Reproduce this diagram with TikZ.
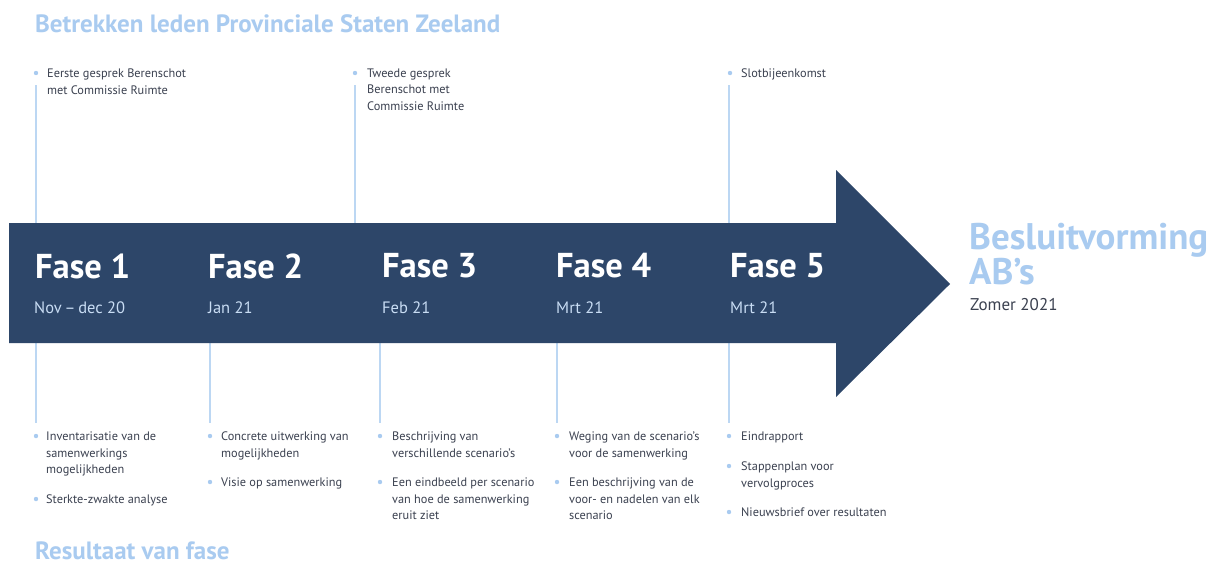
\documentclass[tikz,border=0pt]{standalone}
\usepackage{fontspec}
\setmainfont{PT Sans}
\definecolor{navy}{HTML}{2D4669}
\definecolor{lblue}{HTML}{A9CBF0}
\definecolor{lline}{HTML}{BCD7F3}
\definecolor{dtext}{HTML}{3B4150}
\definecolor{datec}{HTML}{C9DDF4}
\begin{document}
\begin{tikzpicture}[x=1pt,y=-1pt,
  heading/.style={anchor=base west, inner sep=0, text=lblue, font=\fontsize{25}{28}\selectfont\bfseries},
  item/.style={anchor=north west, inner sep=0, align=left, text=dtext, font=\fontsize{12.3}{16.6}\selectfont},
  bul/.style={circle, fill=lblue, inner sep=0, minimum size=4.4pt},
  vline/.style={draw=lline, line width=1.4pt},
  fase/.style={anchor=west, inner sep=0, text=white, font=\fontsize{34.5}{38}\selectfont\bfseries},
  date/.style={anchor=west, inner sep=0, text=datec, font=\fontsize{16.5}{20}\selectfont}
]
\useasboundingbox[fill=white] (0,0) rectangle (1220,566);

% headings
\node[heading] (top) at (35,32) {Betrekken leden Provinciale Staten Zeeland};
\node[heading] (bottom) at (35,559.5) {Resultaat van fase};

% coordinates for vertical lines
\coordinate (t1a) at (36,85);  \coordinate (t1b) at (36,224);
\coordinate (t3a) at (355,85); \coordinate (t3b) at (355,224);
\coordinate (t5a) at (729,85); \coordinate (t5b) at (729,224);
\coordinate (b1a) at (36,342);  \coordinate (b1b) at (36,423);
\coordinate (b2a) at (210,342); \coordinate (b2b) at (210,423);
\coordinate (b3a) at (380,342); \coordinate (b3b) at (380,423);
\coordinate (b4a) at (557,342); \coordinate (b4b) at (557,423);
\coordinate (b5a) at (729,342); \coordinate (b5b) at (729,423);
\foreach \p in {t1,t3,t5,b1,b2,b3,b4,b5} \draw[vline] (\p a) -- (\p b);

% arrow
\fill[navy] (9,223) -- (836,223) -- (836,170) -- (950,284) -- (836,397) -- (836,343) -- (9,343) -- cycle;

% phases
\node[fase] (f1) at (35,266) {Fase 1};
\node[fase] (f2) at (208,266) {Fase 2};
\node[fase] (f3) at (382,266) {Fase 3};
\node[fase] (f4) at (556,266) {Fase 4};
\node[fase] (f5) at (730,266) {Fase 5};
\node[date] (d1) at (34,308) {Nov\,--\,dec 20};
\node[date] (d2) at (208,308) {Jan 21};
\node[date] (d3) at (382,308) {Feb 21};
\node[date] (d4) at (556,308) {Mrt 21};
\node[date] (d5) at (730,308) {Mrt 21};

% final
\node[anchor=west, inner sep=0, align=left, text=lblue, font=\fontsize{37}{31}\selectfont\bfseries] (besl) at (969,253.7) {Besluitvorming\\AB’s};
\node[anchor=base west, inner sep=0, text=dtext, font=\fontsize{17}{20}\selectfont] (zomer) at (970,310) {Zomer 2021};

% top items
\node[bul] (tb1) at (36,73) {};
\node[item] (ti1) at (47,68.5) {Eerste gesprek Berenschot\\met Commissie Ruimte};
\node[bul] (tb3) at (355,73) {};
\node[item] (ti3) at (367,68.5) {Tweede gesprek\\Berenschot met\\Commissie Ruimte};
\node[bul] (tb5) at (730,73) {};
\node[item] (ti5) at (741,68.5) {Slotbijeenkomst};

% bottom items
\node[bul] (bb1a) at (36,436) {};
\node[item] (bi1a) at (46,431.5) {Inventarisatie van de\\samenwerkings\\mogelijkheden};
\node[bul] (bb1b) at (36,499) {};
\node[item] (bi1b) at (46,494.5) {Sterkte-zwakte analyse};

\node[bul] (bb2a) at (210,436) {};
\node[item] (bi2a) at (221,431.5) {Concrete uitwerking van\\mogelijkheden};
\node[bul] (bb2b) at (210,482) {};
\node[item] (bi2b) at (221,477.5) {Visie op samenwerking};

\node[bul] (bb3a) at (380,436) {};
\node[item] (bi3a) at (392,431.5) {Beschrijving van\\verschillende scenario's};
\node[bul] (bb3b) at (380,482) {};
\node[item] (bi3b) at (392,477.5) {Een eindbeeld per scenario\\van hoe de samenwerking\\eruit ziet};

\node[bul] (bb4a) at (557,436) {};
\node[item] (bi4a) at (569,431.5) {Weging van de scenario's\\voor de samenwerking};
\node[bul] (bb4b) at (557,482) {};
\node[item] (bi4b) at (569,477.5) {Een beschrijving van de\\voor- en nadelen van elk\\scenario};

\node[bul] (bb5a) at (729,436) {};
\node[item] (bi5a) at (741,431.5) {Eindrapport};
\node[bul] (bb5b) at (729,466) {};
\node[item] (bi5b) at (741,461.5) {Stappenplan voor\\vervolgproces};
\node[bul] (bb5c) at (729,512) {};
\node[item] (bi5c) at (741,507.5) {Nieuwsbrief over resultaten};
\end{tikzpicture}
\end{document}
